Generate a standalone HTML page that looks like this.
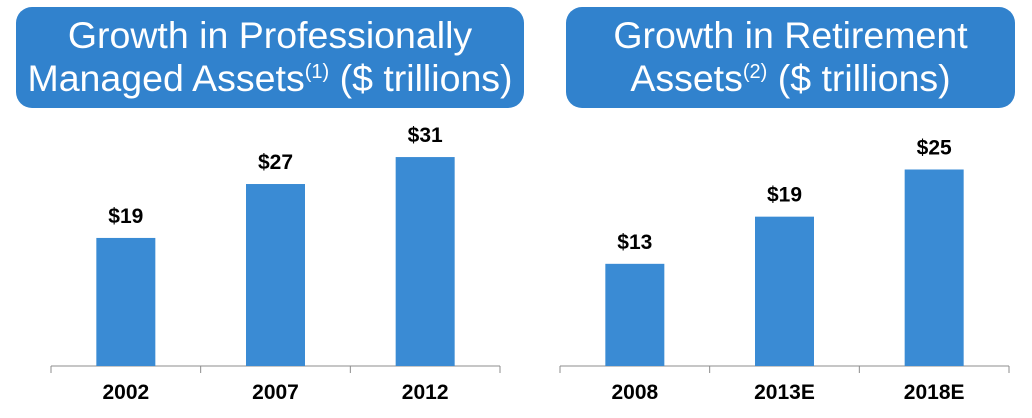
<!DOCTYPE html>
<html><head><meta charset="utf-8"><style>
body{margin:0;background:#fff;width:1032px;height:418px;overflow:hidden;font-family:"Liberation Sans",Arial,sans-serif}
.title{position:absolute;top:7px;height:101px;background:#3182cd;border-radius:16px;color:#fff;font-size:37.5px;line-height:43px;text-align:center;padding-top:7px;box-sizing:border-box;white-space:nowrap}
.title sup{font-size:20px;vertical-align:0;position:relative;top:-13px}
</style></head><body>
<div class="title" style="left:16px;width:508px">Growth in Professionally<br>Managed Assets<sup>(1)</sup> ($ trillions)</div>
<div class="title" style="left:566px;width:449px">Growth in Retirement<br>Assets<sup>(2)</sup> ($ trillions)</div>
<svg id="chart" width="1032" height="418" style="position:absolute;left:0;top:0"></svg>
<script>
const leftCategories=["2002","2007","2012"];
const leftValues=[19,27,31];
const leftLabels=["$19","$27","$31"];
const rightCategories=["2008","2013E","2018E"];
const rightValues=[13,19,25];
const rightLabels=["$13","$19","$25"];
const NS="http://www.w3.org/2000/svg";
const svg=document.getElementById('chart');
function mk(t,a){const e=document.createElementNS(NS,t);for(const k in a)e.setAttribute(k,a[k]);svg.appendChild(e);return e;}
function draw(prefix,cats,vals,labels,x0,x1,base,scale){
  const n=cats.length,w=(x1-x0)/n;
  const ax=mk('line',{x1:x0,x2:x1,y1:base,y2:base,stroke:'#8c8c8c','stroke-width':1});
  
  
  for(let i=0;i<=n;i++){
    const t=mk('line',{x1:x0+i*w,x2:x0+i*w,y1:base,y2:base+7,stroke:'#8c8c8c','stroke-width':1});
    
    
  }
  const yv=v=>base-v*scale;
  cats.forEach((c,i)=>{
    const cx=x0+w*(i+0.5),bw=59;
    const b=mk('rect',{x:cx-bw/2,y:yv(vals[i]),width:bw,height:base-yv(vals[i]),fill:'#3a8bd4'});
    
    
    const l=mk('text',{x:cx,y:yv(vals[i])-15,'text-anchor':'middle','font-size':21,'font-weight':'bold',fill:'#000'});
    l.textContent=labels[i];
    
    
    const cl=mk('text',{x:cx,y:base+33,'text-anchor':'middle','font-size':21,'font-weight':'bold',fill:'#000'});
    cl.textContent=c;
    
    
  });
}
draw('left',leftCategories,leftValues,leftLabels,51,500,366,6.74);
draw('right',rightCategories,rightValues,rightLabels,560,1009,366,7.86);
</script>
</body></html>
